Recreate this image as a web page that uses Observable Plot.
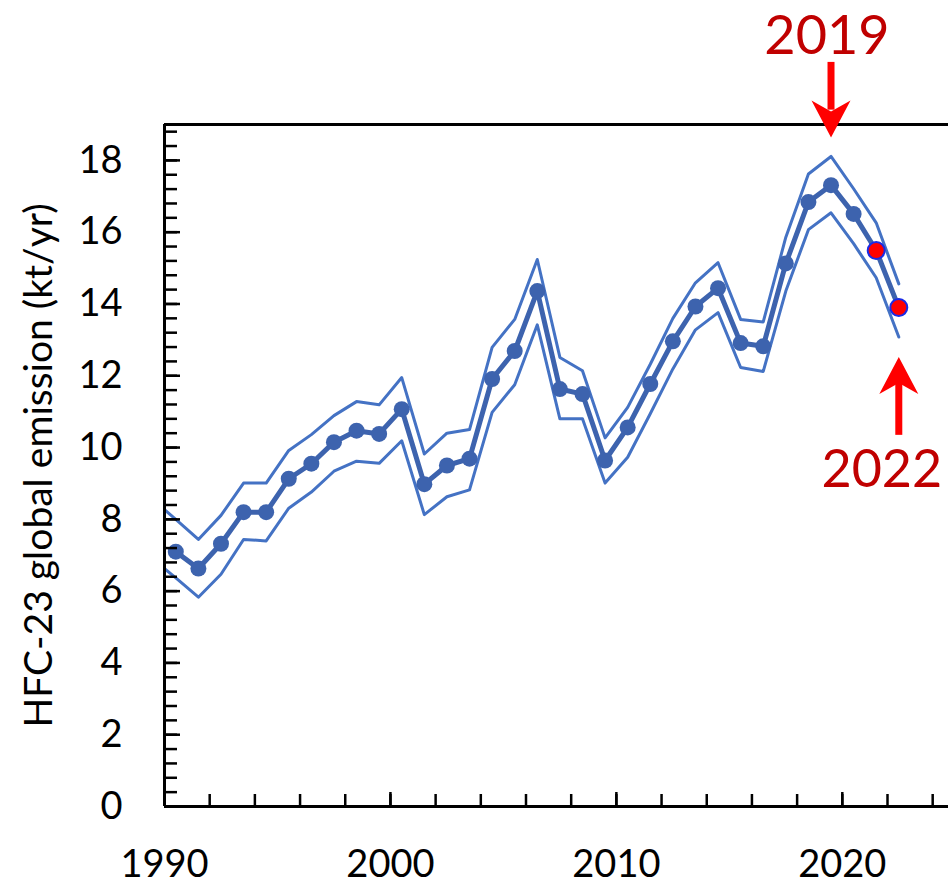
<!DOCTYPE html>
<html>
<head>
<meta charset="utf-8">
<script src="https://cdn.jsdelivr.net/npm/d3@7"></script>
<script src="https://cdn.jsdelivr.net/npm/@observablehq/plot@0.6"></script>
<style>
  html, body { margin: 0; padding: 0; background: #fff; }
  #chart { width: 948px; height: 886px; overflow: hidden; }
</style>
</head>
<body>
<div id="chart"></div>
<script>
// ---- data ----
const years = d3.range(1990, 2023);
const emission = [7.1, 6.63, 7.32, 8.2, 8.2, 9.13, 9.55, 10.15, 10.47, 10.38,
  11.07, 8.98, 9.5, 9.69, 11.91, 12.69, 14.36, 11.63, 11.49, 9.64,
  10.56, 11.77, 12.96, 13.93, 14.44, 12.91, 12.82, 15.13, 16.84, 17.31,
  16.51, 15.49, 13.9];
const highlightYears = [2021, 2022];

const bandYears = d3.range(1989, 2023);
const upperBound = [8.54, 8.0, 7.44, 8.11, 9.01, 9.01, 9.92, 10.36, 10.89, 11.28,
  11.19, 11.95, 9.82, 10.4, 10.5, 12.79, 13.57, 15.24, 12.51, 12.14,
  10.27, 11.12, 12.32, 13.6, 14.59, 15.15, 13.57, 13.5, 15.86, 17.62,
  18.11, 17.21, 16.26, 14.56];
const lowerBound = [6.88, 6.37, 5.83, 6.47, 7.44, 7.4, 8.31, 8.76, 9.34, 9.62,
  9.56, 10.19, 8.13, 8.63, 8.82, 10.98, 11.75, 13.42, 10.8, 10.8,
  9.01, 9.73, 10.94, 12.19, 13.28, 13.76, 12.23, 12.12, 14.36, 16.07,
  16.54, 15.68, 14.73, 13.08];

const xTickLabels = [1990, 2000, 2010, 2020];
const xMinorTicks = d3.range(1990, 2025, 2);
const yTickLabels = [0, 2, 4, 6, 8, 10, 12, 14, 16, 18];
const yMinorTicks = d3.range(0, 48).map(i => i * 0.4);
const yLabel = "HFC-23 global emission (kt/yr)";

// annotations
const annotLabels = ["2019", "2022"];
const annotYears = [2019, 2022];

// ---- tables ----
const main = years.map((y, i) => ({t: y + 0.5, v: emission[i], hi: highlightYears.includes(y)}));
const band = bandYears.map((y, i) => ({t: y + 0.5, up: upperBound[i], lo: lowerBound[i]}));

const arrowDown = [{t: annotYears[0] + 0.5, y1: 20.73, y2: 19.4, tip: 18.64, label: annotLabels[0], ty: 20.97}];
const arrowUp = [{t: annotYears[1] + 0.5, y1: 10.34, y2: 11.8, tip: 12.52, label: annotLabels[1], ty: 9.92}];

// stealth arrow head with tip at origin, pointing down
const arrowHead = {
  draw(ctx, size) {
    const s = Math.sqrt(size / Math.PI) / 20;
    ctx.moveTo(0, 0);
    ctx.lineTo(-19.5 * s, -37 * s);
    ctx.lineTo(0, -26 * s);
    ctx.lineTo(19.5 * s, -37 * s);
    ctx.closePath();
  }
};

const bandColor = "#4472C4";
const mainColor = "#3D63AE";
const red = "#FF0000";
const darkRed = "#C00000";

const chart = Plot.plot({
  width: 948,
  height: 886,
  marginLeft: 164,
  marginRight: 0,
  marginTop: 124,
  marginBottom: 80,
  style: {fontFamily: "Lato, 'Open Sans', sans-serif", fontSize: "38px", color: "#000", background: "#fff", overflow: "hidden"},
  x: {domain: [1990, 2024.7], axis: null},
  y: {domain: [0, 19], axis: null},
  marks: [
    // bands
    Plot.line(band, {x: "t", y: "up", stroke: bandColor, strokeWidth: 3, clip: true}),
    Plot.line(band, {x: "t", y: "lo", stroke: bandColor, strokeWidth: 3, clip: true}),
    // main series
    Plot.line(main, {x: "t", y: "v", stroke: mainColor, strokeWidth: 5}),
    Plot.dot(main.filter(d => !d.hi), {x: "t", y: "v", r: 8, fill: mainColor}),
    Plot.dot(main.filter(d => d.hi), {x: "t", y: "v", r: 8.5, fill: red, stroke: "#1A2BE6", strokeWidth: 2}),

    // axes frame lines
    Plot.ruleX([1990], {stroke: "#000", strokeWidth: 3}),
    Plot.ruleY([0], {stroke: "#000", strokeWidth: 3}),
    Plot.ruleY([19], {stroke: "#000", strokeWidth: 3}),

    // y ticks (inward)
    Plot.axisY({ticks: yMinorTicks, tickSize: -13, tickFormat: () => "", label: null, strokeWidth: 2.5}),
    Plot.axisY({ticks: yTickLabels, tickSize: -16, tickFormat: () => "", label: null, strokeWidth: 2.5}),
    Plot.axisY({ticks: yTickLabels, tickSize: 0, tickPadding: 42, tickFormat: d => String(d), label: null, fontSize: 38}),
    // x ticks (inward)
    Plot.axisX({ticks: xMinorTicks, tickSize: -12, tickFormat: () => "", label: null, strokeWidth: 2.5}),
    Plot.axisX({ticks: xTickLabels, tickSize: -14, tickFormat: () => "", label: null, strokeWidth: 2.5}),
    Plot.axisX({ticks: xTickLabels, tickSize: 0, tickPadding: 44, tickFormat: d => String(d), label: null, fontSize: 38}),

    // y label
    Plot.text([yLabel], {frameAnchor: "left", textAnchor: "middle", rotate: -90, dx: -125, lineAnchor: "middle", fontSize: 39, fill: "#000"}),

    // annotations
    Plot.ruleX(arrowDown, {x: "t", y1: "y1", y2: "y2", stroke: red, strokeWidth: 7}),
    Plot.dot(arrowDown, {x: "t", y: "tip", symbol: arrowHead, r: 20, fill: red, stroke: "none"}),
    Plot.text(arrowDown, {x: "t", y: "ty", text: "label", dx: -4, lineAnchor: "bottom", fontSize: 54, fill: darkRed}),
    Plot.ruleX(arrowUp, {x: "t", y1: "y1", y2: "y2", stroke: red, strokeWidth: 7}),
    Plot.dot(arrowUp, {x: "t", y: "tip", symbol: arrowHead, r: 20, rotate: 180, fill: red, stroke: "none"}),
    Plot.text(arrowUp, {x: "t", y: "ty", text: "label", dx: -17, lineAnchor: "top", fontSize: 52, fill: darkRed})
  ]
});
document.getElementById("chart").append(chart);
</script>
</body>
</html>
